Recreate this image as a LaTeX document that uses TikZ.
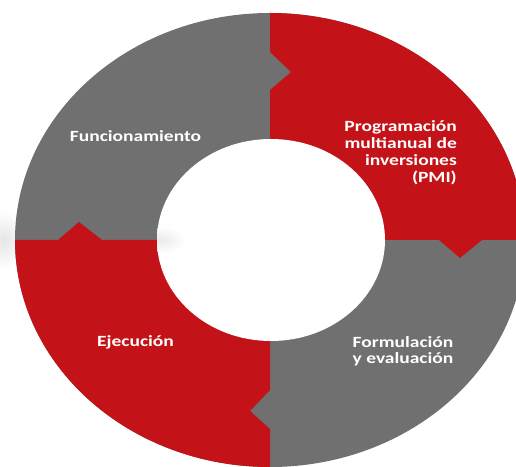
\documentclass[tikz,border=0pt]{standalone}
\usepackage{fontspec}
\setmainfont{Carlito}
\usetikzlibrary{calc}
\definecolor{ringred}{RGB}{196,19,24}
\definecolor{ringgray}{RGB}{112,112,112}
\tikzset{
  lbl/.style={text=white,font=\bfseries\fontsize{15.6}{16.7}\selectfont,inner sep=0pt},
}
\newcommand{\wide}[1]{\scalebox{1.25}[1]{#1}}
\begin{document}
\begin{tikzpicture}[x=1pt,y=1pt]
\useasboundingbox (0,0) rectangle (516,466);
\clip (0,0) rectangle (516,466);
% soft shadow at the left
\shade[inner color=black!10,outer color=white] (4,226) ellipse [x radius=22,y radius=30];
% whole ring in gray
\fill[ringgray] (270,226) ellipse [x radius=255,y radius=227];
\begin{scope}
  \clip (270,226) ellipse [x radius=255,y radius=227];
  % top-right red quadrant
  \fill[ringred] (270,226) -- (270,376) -- (291,394) -- (270,414) -- (270,520)
    -- (560,520) -- (560,226) -- (482,226) -- (460,208) -- (439,226) -- cycle;
  % bottom-left red quadrant
  \fill[ringred] (270,226) -- (102,226) -- (79,244) -- (58,226) -- (-40,226)
    -- (-40,-40) -- (270,-40) -- (270,37) -- (250,55) -- (270,76) -- cycle;
\end{scope}
% hole
\fill[white] (271,226) ellipse [x radius=114,y radius=101];
\begin{scope}
  \clip (271,226) ellipse [x radius=114,y radius=101];
  \shade[inner color=black!8,outer color=white] (160,226) ellipse [x radius=26,y radius=14];
\end{scope}
% labels
\node[lbl,anchor=base] (fun) at (135.5,324) {\wide{Funcionamiento}};
\node[lbl,anchor=base east] (pmi) at (457,334)
  {\wide{\begin{tabular}[t]{@{}r@{}}Programación\\multianual de\\inversiones\\(PMI)\end{tabular}}};
\node[lbl,anchor=base] (for) at (403,119)
  {\wide{\begin{tabular}[t]{@{}c@{}}Formulación\\y evaluación\end{tabular}}};
\node[lbl,anchor=base] (eje) at (135.5,120) {\wide{Ejecución}};
\end{tikzpicture}
\end{document}
